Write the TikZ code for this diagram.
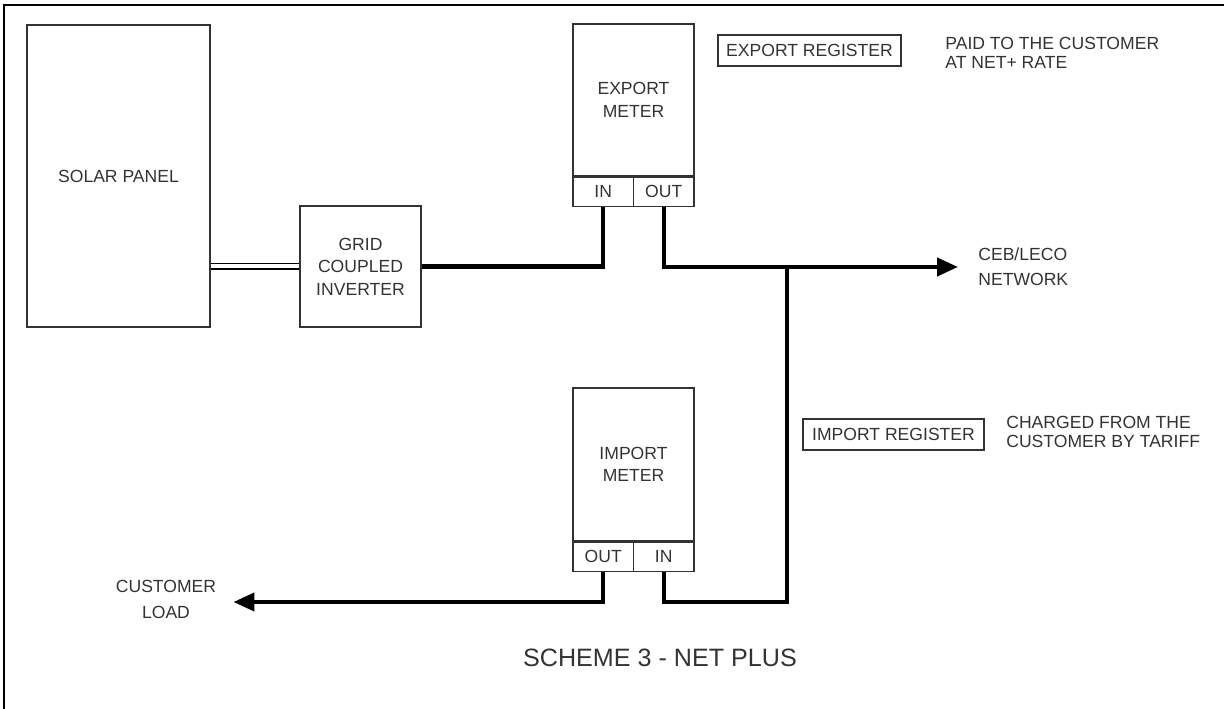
\documentclass[tikz,border=0pt]{standalone}
\usepackage{fontspec}
\setmainfont{Liberation Sans}
\usetikzlibrary{positioning, arrows.meta}
\tikzset{%
    % Symbols for the metering scheme
    block/.style    = {draw=black!80, line width=0.8pt, rectangle, align=center,
    text=black!80, font=\fontsize{10}{12.8}\selectfont},
    port/.style     = {block, minimum width=1.21cm, minimum height=0.58cm,
    inner sep=0pt},
    register/.style = {block, minimum height=0.62cm, inner sep=0pt},
    % Free text
    note/.style     = {align=left, inner sep=0pt, text=black!80,
    font=\fontsize{10}{11.2}\selectfont},
    % Power lines
    wire/.style     = {line width=2.4pt, black},
    feed/.style     = {wire, -{Triangle[length=0.42cm, width=0.36cm]}}
}

\begin{document}
\begin{tikzpicture}
	
	\useasboundingbox (0,0) rectangle (24.48,14.18);
	\draw[line width=0.8pt] (0.08,0) -- (0.08,14.08) -- (24.48,14.08);
	
	% placement of the nodes
	\node[block, minimum width=3.66cm, minimum height=6.04cm] 	(solar) at (2.37,10.66) 	{SOLAR PANEL};
	\node[block, minimum width=2.42cm, minimum height=2.42cm] 	(inv) at (7.21,8.85) 	{GRID\\COUPLED\\INVERTER};
	\node[block, minimum width=2.42cm, minimum height=3.04cm] 	(expm) at (12.67,12.18) 	{EXPORT\\METER};
	\node[port, anchor=north west] 	(expin) at (expm.south west) 	{IN};
	\node[port, anchor=north east] 	(expout) at (expm.south east) 	{OUT};
	\node[block, minimum width=2.42cm, minimum height=3.06cm] 	(impm) at (12.67,4.89) 	{IMPORT\\METER};
	\node[port, anchor=north west] 	(impout) at (impm.south west) 	{OUT};
	\node[port, anchor=north east] 	(impin) at (impm.south east) 	{IN};
	\node[register, minimum width=3.66cm] 	(expreg) at (16.19,13.17) 	{EXPORT REGISTER};
	\node[register, minimum width=3.62cm] 	(impreg) at (17.87,5.49) 	{IMPORT REGISTER};
	\node[note, anchor=west] 	(paid) at (18.9,13.12) 	{PAID TO THE CUSTOMER\\AT NET+ RATE};
	\node[note, anchor=west] 	(charged) at (20.12,5.54) 	{CHARGED FROM THE\\CUSTOMER BY TARIFF};
	\node[note, anchor=west, font=\fontsize{10}{14}\selectfont] 	(grid) at (19.56,8.84) 	{CEB/LECO\\NETWORK};
	\node[note, align=center, font=\fontsize{10}{14.8}\selectfont] 	(load) at (3.32,2.2) 	{CUSTOMER\\LOAD};
	\node[note, font=\fontsize{14.3}{17}\selectfont] 	(title) at (13.2,1.02) 	{SCHEME 3 - NET PLUS};
	\coordinate (tee) at (15.74,8.84);
	\coordinate (loop) at (15.74,2.14);
	
	% lines
	\draw[line width=0.6pt, double, double distance=0.08cm] (solar.east |- inv.west) -- (inv.west);
	\draw[wire] (inv.east) -| (expin.south);
	\draw[feed] (expout.south) |- ([xshift=-0.4cm]grid.west);
	\draw[wire] (impin.south) |- (loop) -- (tee);
	\draw[feed] (impout.south) |- ([xshift=0.34cm]load.east |- loop);
	
\end{tikzpicture}
\end{document}
